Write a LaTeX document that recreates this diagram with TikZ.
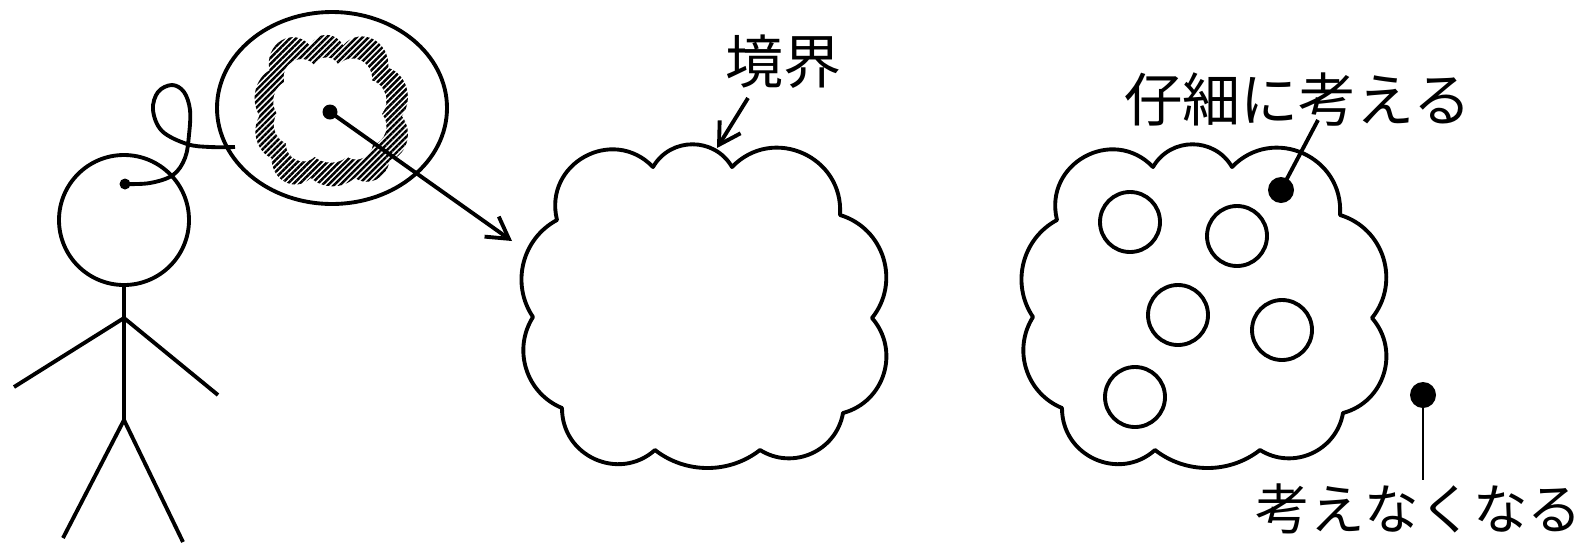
\documentclass[tikz,border=0pt]{standalone}
\usepackage{fontspec}
\newfontfamily\jpfont{Noto Sans CJK JP}
\usetikzlibrary{arrows.meta,patterns.meta}
\tikzset{
  % one bulging lobe of a cloud outline, bent by #1 degrees
  puff/.code={%
    \pgfmathsetmacro\puffL{0.8515/(cos(#1/2)^2)}%
    \edef\puffopts{bend left=#1,looseness=\puffL}%
    \expandafter\tikzset\expandafter{\puffopts}},
  cloudshape/.style={insert path={
    (557,-220) to[puff=75] (653,-167) to[puff=60] (732,-167)
    to[puff=70] (840,-215) to[puff=56] (872,-318) to[puff=58] (843,-413)
    to[puff=56] (760,-450) to[puff=38] (655,-450) to[puff=66] (562,-408)
    to[puff=50] (533,-317) to[puff=48] (557,-220) -- cycle}},
  ink/.style={line width=2.2pt, line join=round},
  blob/.style={circle, fill=black, inner sep=0pt, minimum size=#1},
  lbl/.style={font=\jpfont\fontsize{33pt}{36pt}\selectfont, inner sep=0pt},
  arr/.style={ink, -{Straight Barb[length=12pt,width=14pt]}},
  hatch/.style={pattern={Lines[angle=45,distance=2.4pt,line width=1.4pt]}},
}
\begin{document}
\begin{tikzpicture}[x=0.02cm, y=0.02cm]
\path[use as bounding box, fill=white] (0,0) rectangle (1595,-549);

% stick figure
\draw[ink] (124,-220) circle[radius=65];
\draw[ink] (124,-285) -- (124,-420);
\draw[ink] (14,-387) -- (124,-318) -- (218,-395);
\draw[ink] (63,-538) -- (124,-420) -- (183,-542);

% thought bubble with its curly tether
\draw[ink] (332,-108) ellipse[x radius=115, y radius=96];
\node[blob=0.22cm] (eye) at (125,-184) {};
\coordinate (tether) at (235,-147);
\draw[ink] plot[smooth, tension=0.6] coordinates {(eye.center) (150,-183) (173,-175)
  (185,-158) (189,-135) (190,-110) (184,-92) (172,-85) (158,-92) (153,-110)
  (162,-131) (187,-144) (210,-147) (tether)};

% hatched ring inside the bubble: clip to a small cloud, hatch, then blank the middle
\begin{scope}
  \path[shift={(331.5,-110.5)}, xscale=0.42, yscale=0.468, shift={(-704.5,306)},
        clip, cloudshape];
  \fill[hatch] (240,0) rectangle (430,-220);
\end{scope}
\begin{scope}[shift={(330,-110)}, xscale=0.31, yscale=0.325, shift={(-704.5,306)}]
  \fill[white, cloudshape];
\end{scope}
\node[blob=0.3cm] (idea) at (330,-112) {};

% middle cloud
\draw[ink, cloudshape];
\coordinate (ideatip) at (512,-241);
\draw[arr] (idea.center) -- (ideatip);

\node[lbl] (boundary) at (783,-62) {境界};
\coordinate (bfrom) at (748,-98);
\coordinate (bto) at (717,-148);
\draw[arr] (bfrom) -- (bto);

% right cloud with small circles
\begin{scope}[shift={(500,0)}]
  \draw[ink, cloudshape];
\end{scope}
\draw[ink] (1130,-222) circle[radius=30];
\draw[ink] (1237,-236) circle[radius=30];
\draw[ink] (1178,-315) circle[radius=30];
\draw[ink] (1282,-330) circle[radius=30];
\draw[ink] (1135,-397) circle[radius=30];

\node[blob=0.52cm] (focus) at (1281,-190) {};
\node[lbl] (detail) at (1298,-100) {仔細に考える};
\coordinate (focusend) at (1318,-120);
\draw[ink] (focus.center) -- (focusend);

\node[blob=0.52cm] (skip) at (1423,-395) {};
\node[lbl, font=\jpfont\fontsize{31pt}{36pt}\selectfont] (ignore) at (1419,-509) {考えなくなる};
\coordinate (skipend) at (1423,-480);
\draw[line width=1.6pt] (skip.center) -- (skipend);
\end{tikzpicture}
\end{document}
